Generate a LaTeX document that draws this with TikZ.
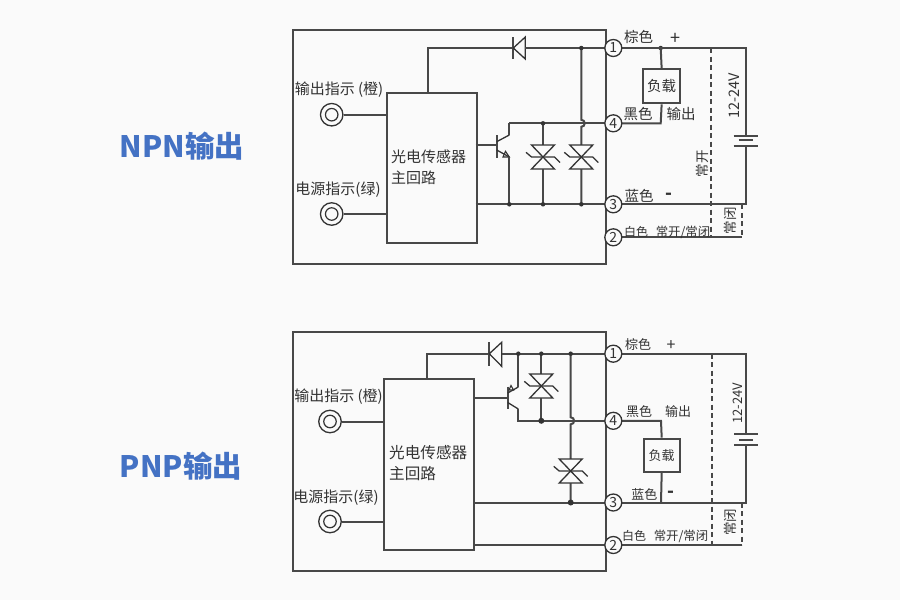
\documentclass[tikz,border=0pt]{standalone}
\usepackage{fontspec}
\setmainfont{Noto Sans CJK SC}
\usetikzlibrary{calc}
\definecolor{ln}{HTML}{484848}
\definecolor{tx}{HTML}{333333}
\definecolor{ttl}{HTML}{4472C4}
\tikzset{
 wire/.style={draw=ln,line width=2pt},
 box/.style={draw=ln,line width=2pt},
 dashw/.style={draw=ln,line width=2pt,dash pattern=on 5pt off 3.5pt},
 pin/.style={circle,draw=tx,line width=1.3pt,fill=white!98!black,minimum size=17pt,inner sep=0pt,font=\fontsize{14}{14}\selectfont,text=tx},
 dot/.style={circle,fill=tx,inner sep=0pt,minimum size=4.5pt},
 bigdot/.style={circle,fill=tx,inner sep=0pt,minimum size=6pt},
 side/.style={text=tx,inner sep=0pt,font=\fontsize{15}{15}\selectfont},
 lab/.style={text=tx,inner sep=0pt,font=\fontsize{14.5}{15}\selectfont},
 small/.style={text=tx,inner sep=0pt,font=\fontsize{13}{14}\selectfont},
 wht/.style={text=tx,inner sep=0pt,font=\fontsize{12}{13}\selectfont},
 tiny/.style={text=tx,inner sep=0pt,font=\fontsize{12.4}{13}\selectfont},
 vert/.style={text=tx,inner sep=0pt,rotate=90,font=\fontsize{13.5}{14}\selectfont},
 plus/.style={text=tx,inner sep=0pt,font=\fontsize{18}{18}\selectfont},
 minus/.style={text=tx,inner sep=0pt,font=\fontsize{18}{18}\selectfont\bfseries},
 title/.style={text=ttl,inner sep=0pt,font=\fontsize{29.5}{30}\selectfont\bfseries},
 led/.style={circle,draw=tx,line width=1.3pt,minimum size=22.5pt,inner sep=0pt},
 ledin/.style={circle,draw=tx,line width=1.2pt,minimum size=12.5pt,inner sep=0pt},
 fine/.style={draw=tx,line width=1.3pt},
}
\newcommand{\tvsb}[2]{%
 \begin{scope}[shift={(#1,#2)}]
  \fill[white!98!black] (-11.5,-12) -- (11.5,-12) -- (-11.5,12) -- (11.5,12) -- cycle;
  \draw[fine] (-11.5,-12) -- (11.5,-12) -- (-11.5,12) -- (11.5,12) -- cycle;
  \draw[fine] (-17,-4.7) -- (-11.5,0) -- (11.5,0) -- (17,5.5);
 \end{scope}}
\begin{document}
\begin{tikzpicture}[x=1pt,y=-1pt]
\useasboundingbox (0,0) rectangle (900,600);
\fill[white!98!black] (0,0) rectangle (900,600);
\node[title] (t1) at (182,146) {NPN输出};
\node[title] (t2) at (181,466) {PNP输出};

%%%%% NPN
\node[box,minimum width=313.5pt,minimum height=234.5pt,inner sep=0pt,anchor=north west] (o1) at (291.5,28.7) {};
\node[box,minimum width=90.2pt,minimum height=150.3pt,inner sep=0pt,anchor=north west] (b1) at (385.5,92) {};
\node[led] (l1) at (331.7,114.7) {};
\node[led] (l2) at (331.7,214) {};
\node[ledin] at (l1) {};
\node[ledin] at (l2) {};
\draw[wire] (l1.east) -- (385.5,114.7);
\draw[wire] (l2.east) -- (385.5,214);
\node[side] (a1) at (339,90) {输出指示 (橙)};
\node[side] (a2) at (338,190) {电源指示(绿)};
\node[side,anchor=west] (a3) at (391,157) {光电传感器};
\node[side,anchor=west] (a4) at (391,178) {主回路};
\coordinate (p1) at (613.3,48);
\coordinate (p4) at (613.3,123.3);
\coordinate (p3) at (613.3,204.3);
\coordinate (p2) at (613.3,237.3);
\draw[wire] (428.3,92) -- (428.3,48) -- (513.3,48);
\draw[wire] (513.3,37) -- (513.3,59);
\draw[fine] (513.3,48) -- (525.3,37) -- (525.3,59) -- cycle;
\draw[wire] (525.3,48) -- (p1);
\draw[wire] (581.3,48) -- (581.3,119.8) arc[start angle=-90,end angle=90,radius=3.5] -- (581.3,204.3);
\draw[wire] (509.3,123.3) -- (p4);
\draw[wire] (475.7,204.3) -- (p3);
\draw[wire] (475.7,145.3) -- (496.7,145.3);
\draw[wire] (496.7,135) -- (496.7,157.5);
\draw[fine] (496.7,141.7) -- (509.3,135);
\draw[wire] (509.3,135) -- (509.3,123.3);
\draw[fine] (496.7,150) -- (509.3,157);
\draw[fine,line width=1.1pt] (503,157) -- (509.3,157) -- (505.5,151.3) -- cycle;
\draw[wire] (509.3,157) -- (509.3,204.3);
\draw[wire] (543,123.3) -- (543,204.3);
\tvsb{543}{157}
\tvsb{581.3}{157}
\foreach \q in {(543,123.3),(509.3,204.3),(543,204.3),(581.3,204.3),(581.3,48),(660.7,48)} \node[dot] at \q {};
\draw[wire] (p1) -- (745.7,48) -- (745.7,135.5);
\draw[wire] (745.7,145.5) -- (745.7,204.3) -- (p3);
\draw[wire] (733.7,135.5) -- (757.7,135.5);
\draw[wire] (738.5,140) -- (753,140);
\draw[wire] (733.7,145.5) -- (757.7,145.5);
\node[box,minimum width=37.3pt,minimum height=34pt,inner sep=0pt,anchor=north west,font=\fontsize{14.5}{15}\selectfont,text=tx] (load1) at (642,68.3) {负载};
\draw[wire] (660.7,48) -- (load1.north);
\draw[wire] (load1.south) -- (660.7,123.3) -- (p4);
\draw[wire] (p2) -- (742.3,237.3);
\draw[dashw] (711,48) -- (711,237.3);
\draw[dashw] (742.3,204.3) -- (742.3,237.3);
\node[pin] at (p1) {1};
\node[pin] at (p4) {4};
\node[pin] at (p3) {3};
\node[pin] at (p2) {2};
\node[lab] (c1) at (638.5,37) {棕色};
\node[plus] (c2) at (675.5,38.5) {+};
\node[lab] (c3) at (638,114) {黑色};
\node[lab] (c4) at (681,114) {输出};
\node[lab] (c5) at (639,196) {蓝色};
\node[minus] (c6) at (668.5,196) {-};
\node[wht] (c7) at (636,232) {白色};
\node[tiny] (c8) at (683,232) {常开/常闭};
\node[lab,rotate=90] (c9) at (734,96) {12-24V};
\node[vert] (c10) at (702.5,163.5) {常开};
\node[vert] (c11) at (730.7,220.7) {常闭};

%%%%% PNP
\node[box,minimum width=313.8pt,minimum height=239pt,inner sep=0pt,anchor=north west] (o2) at (291.5,331.3) {};
\node[box,minimum width=90.6pt,minimum height=170.4pt,inner sep=0pt,anchor=north west] (b2) at (382.7,378.3) {};
\node[led] (l3) at (330,421.5) {};
\node[led] (l4) at (330,521.5) {};
\node[ledin] at (l3) {};
\node[ledin] at (l4) {};
\draw[wire] (l3.east) -- (382.7,421.5);
\draw[wire] (l4.east) -- (382.7,521.5);
\node[side] (d1) at (338.5,397) {输出指示 (橙)};
\node[side] (d2) at (336,498) {电源指示(绿)};
\node[side,anchor=west,font=\fontsize{15.6}{16}\selectfont] (d3) at (389,453) {光电传感器};
\node[side,anchor=west,font=\fontsize{15.6}{16}\selectfont] (d4) at (389,474) {主回路};
\coordinate (q1) at (613.3,353.7);
\coordinate (q4) at (613.3,420.8);
\coordinate (q3) at (613.3,502.5);
\coordinate (q2) at (613.3,545);
\draw[wire] (427,378.3) -- (427,353.7) -- (489.3,353.7);
\draw[wire] (489.3,342.3) -- (489.3,366.3);
\draw[fine] (489.3,353.7) -- (501.7,342.3) -- (501.7,366.3) -- cycle;
\draw[wire] (501.7,353.7) -- (q1);
\draw[wire] (473.3,397.7) -- (507.7,397.7);
\draw[wire] (507.7,386.7) -- (507.7,409);
\draw[fine] (507.7,393) -- (518.3,387);
\draw[wire] (518.3,387) -- (518.3,353.7);
\draw[fine,line width=1.1pt] (509,390) -- (513.5,390) -- (511,385.5) -- cycle;
\draw[fine] (507.7,402.5) -- (518.3,409);
\draw[wire] (518.3,409) -- (518.3,420.8) -- (q4);
\draw[wire] (541.3,353.7) -- (541.3,420.8);
\tvsb{541.3}{386}
\draw[wire] (570.7,353.7) -- (570.7,417.3) arc[start angle=-90,end angle=90,radius=3.5] -- (570.7,502.5);
\tvsb{570.7}{471}
\draw[wire] (473.3,502.5) -- (q3);
\draw[wire] (473.3,545) -- (q2);
\foreach \q in {(518.3,353.7),(541.3,353.7),(570.7,353.7)} \node[dot] at \q {};
\node[bigdot] at (541.3,420.8) {};
\node[bigdot] at (570.7,502.5) {};
\draw[wire] (q1) -- (746,353.7) -- (746,434);
\draw[wire] (746,445) -- (746,502.5) -- (q3);
\draw[wire] (734,434) -- (758,434);
\draw[wire] (739,439.5) -- (753,439.5);
\draw[wire] (734,445) -- (758,445);
\node[box,minimum width=36pt,minimum height=33.3pt,inner sep=0pt,anchor=north west,font=\fontsize{13}{14}\selectfont,text=tx] (load2) at (642.7,437.7) {负载};
\draw[wire] (q4) -- (661,420.8) -- (load2.north);
\draw[wire] (load2.south) -- (661,502.5);
\draw[wire] (q2) -- (741.7,545);
\draw[dashw] (711.7,353.7) -- (711.7,545);
\draw[dashw] (741.7,502.5) -- (741.7,545);
\node[pin] at (q1) {1};
\node[pin] at (q4) {4};
\node[pin] at (q3) {3};
\node[pin] at (q2) {2};
\node[small] (e1) at (638,344.5) {棕色};
\node[plus,font=\fontsize{16}{16}\selectfont] (e2) at (671,345.5) {+};
\node[small] (e3) at (639,411.5) {黑色};
\node[small] (e4) at (678,411.5) {输出};
\node[small] (e5) at (644.3,494) {蓝色};
\node[minus] (e6) at (671,494) {-};
\node[wht] (e7) at (634,536) {白色};
\node[tiny] (e8) at (681,536) {常开/常闭};
\node[small,rotate=90] (e9) at (737.3,403.5) {12-24V};
\node[vert] (e10) at (730,522) {常闭};
\end{tikzpicture}
\end{document}
